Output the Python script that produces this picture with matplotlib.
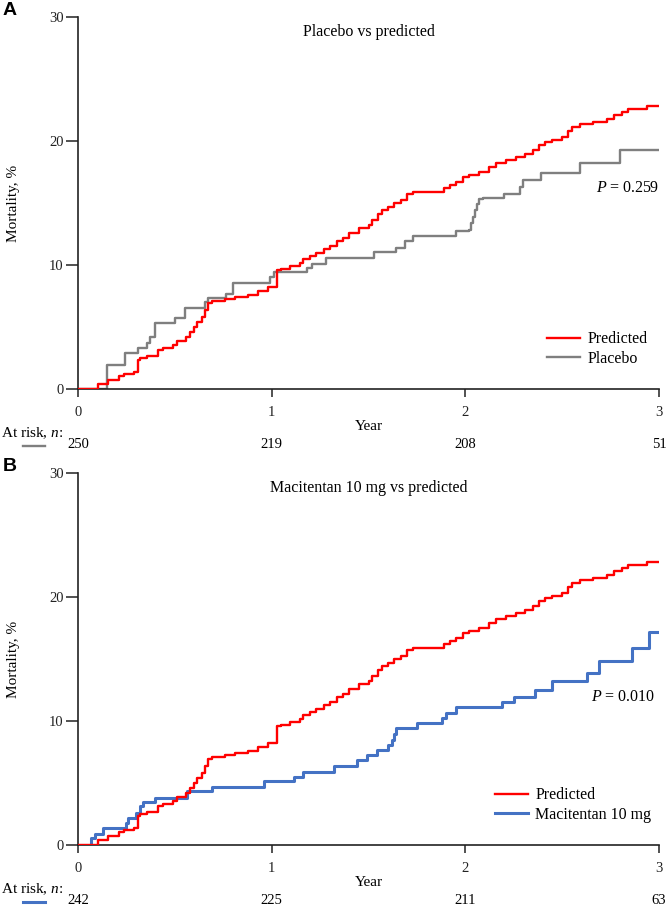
import matplotlib
matplotlib.use('Agg')
import matplotlib.pyplot as plt
from matplotlib.lines import Line2D

plt.rcParams['font.family'] = ['Liberation Serif', 'DejaVu Serif']
plt.rcParams['mathtext.fontset'] = 'custom'
plt.rcParams['mathtext.rm'] = 'Liberation Serif'
plt.rcParams['mathtext.it'] = 'Liberation Serif:italic'

# predicted mortality (step curve, same in both panels)
pred_t = [0, 0.105, 0.155, 0.21, 0.235, 0.29, 0.31, 0.32, 0.355, 0.415, 0.44, 0.49, 0.51, 0.56,
          0.58, 0.60, 0.615, 0.64, 0.655, 0.67, 0.69, 0.76, 0.81, 0.88, 0.93, 0.98, 1.03, 1.05,
          1.095, 1.145, 1.16, 1.20, 1.23, 1.27, 1.30, 1.335, 1.37, 1.40, 1.45, 1.50, 1.52, 1.55,
          1.57, 1.60, 1.63, 1.67, 1.70, 1.73, 1.82, 1.89, 1.92, 1.95, 1.99, 2.02, 2.07, 2.12,
          2.16, 2.21, 2.26, 2.31, 2.35, 2.38, 2.41, 2.45, 2.50, 2.53, 2.55, 2.59, 2.66, 2.73,
          2.77, 2.81, 2.84, 2.94, 3.0]
pred_y = [0, 0.38, 0.73, 1.05, 1.2, 1.4, 2.34, 2.47, 2.66, 3.15, 3.33, 3.55, 3.9, 4.2,
          4.6, 5.0, 5.4, 5.8, 6.4, 6.9, 7.1, 7.25, 7.45, 7.6, 7.9, 8.25, 9.6, 9.65,
          9.9, 10.2, 10.5, 10.7, 10.95, 11.3, 11.55, 11.9, 12.15, 12.55, 12.95, 13.2, 13.6, 14.15,
          14.4, 14.7, 15.0, 15.25, 15.7, 15.85, 15.9, 16.2, 16.45, 16.7, 17.1, 17.25, 17.5, 17.9,
          18.25, 18.45, 18.7, 18.95, 19.3, 19.7, 19.95, 20.1, 20.35, 20.8, 21.15, 21.35, 21.5, 21.75,
          22.1, 22.35, 22.6, 22.85, 22.85]

# placebo
plac_t = [0, 0.15, 0.245, 0.31, 0.355, 0.37, 0.40, 0.50, 0.555, 0.655, 0.67, 0.765, 0.80, 0.99,
          1.01, 1.18, 1.21, 1.28, 1.53, 1.64, 1.69, 1.73, 1.95, 2.02, 2.03, 2.04, 2.05, 2.06,
          2.07, 2.09, 2.20, 2.28, 2.30, 2.39, 2.59, 2.80, 3.0]
plac_y = [0, 1.94, 2.93, 3.28, 3.7, 4.17, 5.35, 5.7, 6.5, 7.05, 7.3, 7.7, 8.57, 9.05,
          9.4, 9.73, 10.1, 10.6, 11.07, 11.4, 11.9, 12.35, 12.77, 12.8, 13.35, 13.9, 14.4, 14.95,
          15.3, 15.4, 15.7, 16.25, 16.85, 17.4, 18.2, 19.3, 19.3]

# macitentan 10 mg
maci_t = [0, 0.065, 0.086, 0.131, 0.246, 0.26, 0.30, 0.32, 0.337, 0.40, 0.565, 0.694, 0.96,
          1.115, 1.16, 1.32, 1.44, 1.49, 1.545, 1.60, 1.62, 1.63, 1.64, 1.75, 1.88, 1.90, 1.95,
          2.19, 2.25, 2.36, 2.45, 2.63, 2.69, 2.86, 2.95, 3.0]
maci_y = [0, 0.57, 0.92, 1.38, 1.78, 2.18, 2.6, 3.13, 3.48, 3.83, 4.34, 4.64, 5.15,
          5.5, 5.9, 6.4, 6.85, 7.25, 7.65, 8.1, 8.5, 8.95, 9.4, 9.8, 10.25, 10.65, 11.1,
          11.5, 11.95, 12.5, 13.2, 13.9, 14.8, 15.9, 17.2, 17.2]

years = [0, 1, 2, 3]
risk_placebo = [250, 219, 208, 51]
risk_maci = [242, 225, 211, 63]

RED = '#ff0000'
GRAY = '#7f7f7f'
BLUE = '#4472c4'

W, H = 666, 908
fig = plt.figure(figsize=(W / 100, H / 100), dpi=100)


def panel(top_px, letter, title, t2, y2, name2, col2, lw2, risk, ptxt, pxy, leg_x):
    left, right, bottom = 78, 659, top_px + 372
    ax = fig.add_axes([left / W, 1 - bottom / H, (right - left) / W, 372 / H])
    ax.step(pred_t, pred_y, where='post', color=RED, lw=1.7, label='Predicted', zorder=3)
    ax.step(t2, y2, where='post', color=col2, lw=lw2, label=name2, zorder=2)
    ax.set_xlim(0, 3)
    ax.set_ylim(0, 30)
    ax.set_xticks(years)
    ax.set_yticks([0, 10, 20, 30])
    for s in ['top', 'right']:
        ax.spines[s].set_visible(False)
    for s in ['left', 'bottom']:
        ax.spines[s].set_linewidth(1.2)
        ax.spines[s].set_color('#222222')
    ax.tick_params(axis='y', length=8.5, width=1.1, pad=2, labelsize=10.5, colors='#222222')
    ax.tick_params(axis='x', length=5.8, width=1.1, pad=6.5, labelsize=10.5, colors='#222222')
    ax.set_ylabel('Mortality, %', fontsize=11)
    ax.yaxis.set_label_coords(-0.10, 0.5)
    ax.set_xlabel('Year', fontsize=11)
    ax.xaxis.set_label_coords(0.5, -0.083)
    ax.text(0.5, 0.96, title, transform=ax.transAxes, ha='center', va='center', fontsize=11.5)
    ax.text(pxy[0], pxy[1], ptxt, ha='right', va='center', fontsize=11.5)
    ax.legend(loc='upper left', bbox_to_anchor=(leg_x, 0.155), frameon=False, fontsize=11.5,
              handlelength=2.1, handletextpad=0.45, labelspacing=0.2, borderpad=0, borderaxespad=0)
    # at-risk table
    ax.text(-0.132, -0.118, 'At risk, $n$:', transform=ax.transAxes, ha='left', va='center',
            fontsize=11)
    for yr, n in zip(years, risk):
        ax.text(yr, -0.150, str(n), transform=ax.get_xaxis_transform(), ha='center',
                va='center', fontsize=10.5)
    ly = 1 - (bottom + 57) / H
    fig.add_artist(Line2D([23 / W, 45 / W], [ly, ly], color=col2, lw=lw2))
    fig.text(3 / W, 1 - (top_px - 15) / H, letter, fontsize=14, fontweight='bold',
             family='Liberation Sans', ha='left', va='top')
    return ax


panel(17, 'A', 'Placebo vs predicted', plac_t, plac_y, 'Placebo', GRAY, 1.7,
      risk_placebo, '$P$ = 0.259', (3.0, 16.2), 0.807)
panel(473, 'B', 'Macitentan 10 mg vs predicted', maci_t, maci_y, 'Macitentan 10 mg', BLUE, 2.2,
      risk_maci, '$P$ = 0.010', (2.98, 11.9), 0.717)

fig.savefig('out.png', dpi=100)
